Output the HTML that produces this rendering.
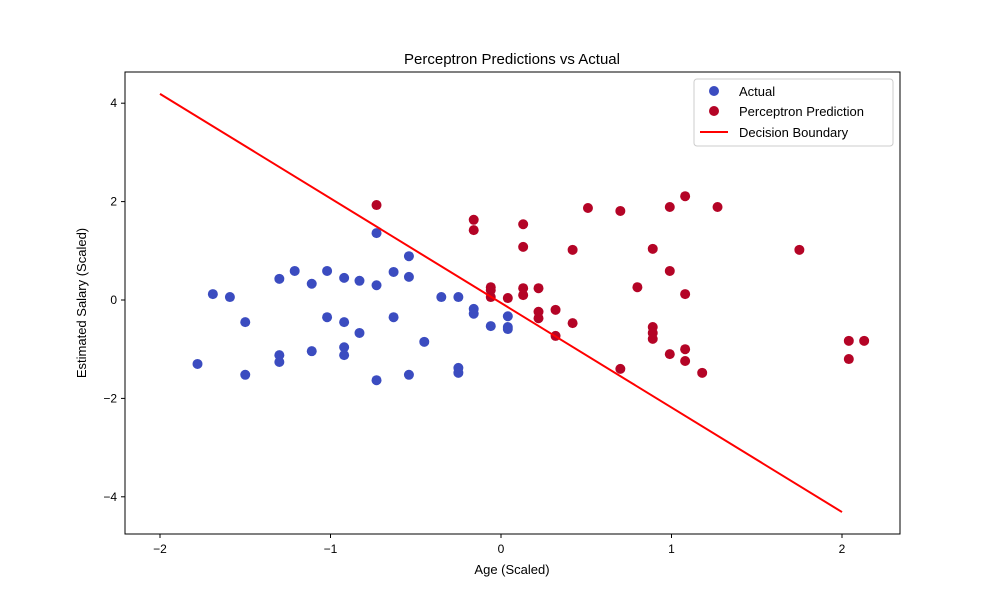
<!DOCTYPE html>
<html><head><meta charset="utf-8"><style>body{margin:0;background:#fff}svg{display:block;font-family:"Liberation Sans",sans-serif}</style></head>
<body>
<svg id="chart" width="1000" height="600" xmlns="http://www.w3.org/2000/svg">
<rect width="1000" height="600" fill="#fff"/>
<text x="512" y="64" text-anchor="middle" font-size="15">Perceptron Predictions vs Actual</text>
<g id="marks"></g>
<rect x="125" y="72" width="775" height="462" fill="none" stroke="#000" stroke-width="1"/>
<g id="axes"></g>
<text x="512" y="574" text-anchor="middle" font-size="13">Age (Scaled)</text>
<text transform="translate(86,303) rotate(-90)" text-anchor="middle" font-size="13">Estimated Salary (Scaled)</text>
<g>
<rect x="694" y="79" width="199" height="67" rx="3" fill="#fff" stroke="#ccc"/>
<circle cx="714" cy="91" r="5" fill="#3b4cc0"/>
<text x="739" y="96" font-size="13">Actual</text>
<circle cx="714" cy="111" r="5" fill="#b40426"/>
<text x="739" y="116" font-size="13">Perceptron Prediction</text>
<line x1="700" y1="132" x2="728" y2="132" stroke="#f00" stroke-width="2"/>
<text x="739" y="137" font-size="13">Decision Boundary</text>
</g>
</svg>
<script>
const actualX=[-1.78,-1.69,-1.59,-1.50,-1.50,-1.30,-1.30,-1.30,-1.21,-1.11,-1.11,-1.02,-1.02,-0.92,-0.92,-0.92,-0.92,-0.83,-0.83,-0.73,-0.73,-0.73,-0.63,-0.63,-0.54,-0.54,-0.54,-0.45,-0.35,-0.25,-0.25,-0.25,-0.16,-0.16,-0.06,0.04,0.04,0.04];
const actualY=[-1.30,0.12,0.06,-0.45,-1.52,0.43,-1.12,-1.26,0.59,0.33,-1.04,0.59,-0.35,0.45,-0.45,-0.96,-1.12,0.39,-0.67,0.30,1.36,-1.63,0.57,-0.35,0.89,0.47,-1.52,-0.85,0.06,0.06,-1.38,-1.48,-0.18,-0.28,-0.53,-0.33,-0.55,-0.59];
const predX=[-0.73,-0.16,-0.16,0.13,0.13,0.51,0.70,0.99,1.08,1.27,0.42,0.89,1.75,0.99,-0.06,-0.06,-0.06,0.04,0.13,0.13,0.22,0.80,1.08,0.22,0.22,0.32,0.42,0.32,0.89,0.89,0.89,0.70,0.99,1.08,1.08,1.18,2.04,2.13,2.04];
const predY=[1.93,1.63,1.42,1.54,1.08,1.87,1.81,1.89,2.11,1.89,1.02,1.04,1.02,0.59,0.26,0.20,0.06,0.04,0.24,0.10,0.24,0.26,0.12,-0.24,-0.37,-0.20,-0.47,-0.73,-0.55,-0.67,-0.79,-1.40,-1.10,-1.00,-1.24,-1.48,-0.83,-0.83,-1.20];
const boundaryX=[-2,2];
const boundaryY=[4.19,-4.31];
const xTicks=[-2,-1,0,1,2];
const yTicks=[-4,-2,0,2,4];
const NS="http://www.w3.org/2000/svg";
const sx=v=>501+v*170.5;
const sy=v=>300-v*49.2;
const marks=document.getElementById('marks'), axes=document.getElementById('axes');
function mk(tag,attrs,parent){const e=document.createElementNS(NS,tag);for(const k in attrs)e.setAttribute(k,attrs[k]);parent.appendChild(e);return e;}
actualX.forEach((x,i)=>{const c=mk('circle',{cx:sx(x),cy:sy(actualY[i]),r:5,fill:'#3b4cc0'},marks);

});
predX.forEach((x,i)=>{const c=mk('circle',{cx:sx(x),cy:sy(predY[i]),r:5,fill:'#b40426'},marks);

});
const ln=mk('line',{x1:sx(boundaryX[0]),y1:sy(boundaryY[0]),x2:sx(boundaryX[1]),y2:sy(boundaryY[1]),stroke:'#f00','stroke-width':2},marks);


xTicks.forEach(t=>{mk('line',{x1:sx(t),x2:sx(t),y1:534,y2:538,stroke:'#000'},axes);
const tx=mk('text',{x:sx(t),y:553,'text-anchor':'middle','font-size':12},axes);tx.textContent=t<0?'\u2212'+(-t):t;

});
yTicks.forEach(t=>{mk('line',{x1:121,x2:125,y1:sy(t),y2:sy(t),stroke:'#000'},axes);
const tx=mk('text',{x:117,y:sy(t)+4,'text-anchor':'end','font-size':12},axes);tx.textContent=t<0?'\u2212'+(-t):t;

});
</script>
</body></html>
